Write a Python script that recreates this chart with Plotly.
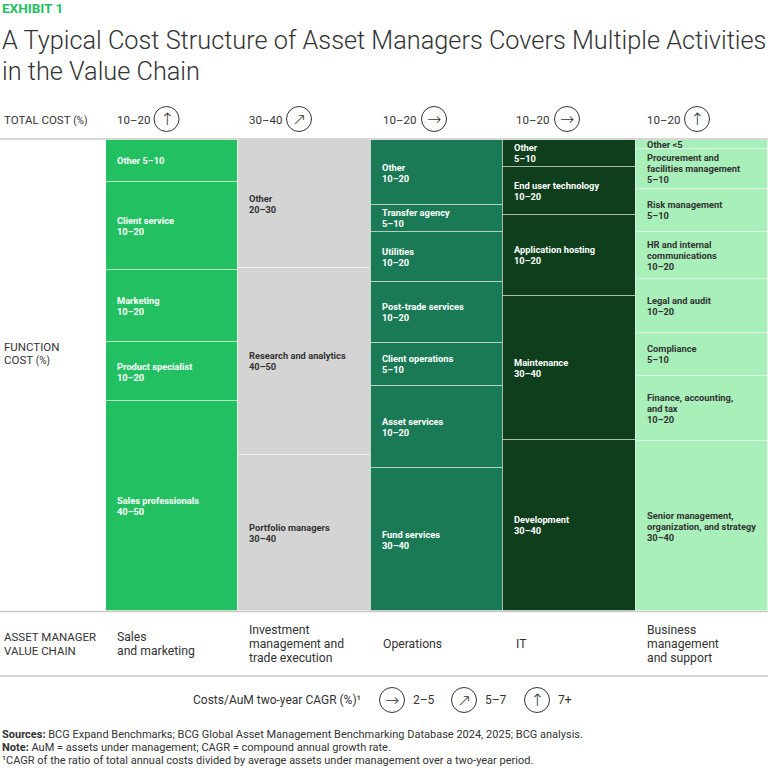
import plotly.graph_objects as go

# ---------------- data ----------------
chain_labels = [["Sales", "and marketing"],
                ["Investment", "management and", "trade execution"],
                ["Operations"], ["IT"],
                ["Business", "management", "and support"]]
total_cost = ["10–20", "30–40", "10–20", "10–20", "10–20"]
cagr_arrow = ["↑", "↗", "→", "→", "↑"]

sales_labels = [["Other 5–10"], ["Client service", "10–20"], ["Marketing", "10–20"],
                ["Product specialist", "10–20"], ["Sales professionals", "40–50"]]
sales_shares = [8.9, 18.6, 15.3, 12.7, 44.5]

invest_labels = [["Other", "20–30"], ["Research and analytics", "40–50"],
                 ["Portfolio managers", "30–40"]]
invest_shares = [27.1, 39.8, 33.1]

ops_labels = [["Other", "10–20"], ["Transfer agency", "5–10"], ["Utilities", "10–20"],
              ["Post-trade services", "10–20"], ["Client operations", "5–10"],
              ["Asset services", "10–20"], ["Fund services", "30–40"]]
ops_shares = [13.8, 5.7, 10.6, 12.9, 9.3, 17.4, 30.3]

it_labels = [["Other", "5–10"], ["End user technology", "10–20"],
             ["Application hosting", "10–20"], ["Maintenance", "30–40"],
             ["Development", "30–40"]]
it_shares = [5.7, 10.2, 17.2, 30.5, 36.4]

bms_labels = [["Other <5"], ["Procurement and", "facilities management", "5–10"],
              ["Risk management", "5–10"], ["HR and internal", "communications", "10–20"],
              ["Legal and audit", "10–20"], ["Compliance", "5–10"],
              ["Finance, accounting,", "and tax", "10–20"],
              ["Senior management,", "organization, and strategy", "30–40"]]
bms_shares = [1.9, 8.5, 9.1, 10.0, 11.4, 9.1, 14.0, 36.0]

legend_arrows = ["→", "↗", "↑"]
legend_ranges = ["2–5", "5–7", "7+"]

all_labels = [sales_labels, invest_labels, ops_labels, it_labels, bms_labels]
all_shares = [sales_shares, invest_shares, ops_shares, it_shares, bms_shares]

# ---------------- style ----------------
col_colors = ["#22C061", "#D4D4D4", "#1B7A56", "#0E3E1C", "#A8EFB9"]
txt_colors = ["#FFFFFF", "#333333", "#FFFFFF", "#FFFFFF", "#333333"]
DARK = "#333333"
FONT = "Roboto"

W, H = 768, 768
L, R, T, B = 106, 768, 140, 611


def pxx(x):
    return (x - L) / (R - L)


def pxy(y):
    return (B - y) / (B - T)


fig = go.Figure()
annotations = []
shapes = []

for i, (labels, shares) in enumerate(zip(all_labels, all_shares)):
    bases = []
    acc = 0
    for s in shares:
        bases.append(acc)
        acc += s
    fig.add_trace(go.Bar(
        x=[i] * len(shares), y=shares, base=bases, width=1,
        marker=dict(color=col_colors[i], line=dict(color="rgba(255,255,255,0.45)", width=1)),
        hoverinfo="skip", showlegend=False))
    for lab, b, s in zip(labels, bases, shares):
        n = len(lab)
        for k, line in enumerate(lab):
            annotations.append(dict(
                x=i - 0.5, xref="x", xshift=9, xanchor="left",
                y=b + s / 2, yref="y", yanchor="middle",
                yshift=-(k - (n - 1) / 2) * 11,
                text="<b>" + line + "</b>", showarrow=False,
                font=dict(family=FONT, size=9.3, color=txt_colors[i])))


def text(x, y, t, size, color=DARK, anchor="left", weight=None, family=FONT):
    d = dict(x=pxx(x), y=pxy(y), xref="paper", yref="paper", xanchor=anchor,
             yanchor="middle", text=t, showarrow=False,
             font=dict(family=family, size=size, color=color))
    if weight:
        d["font"]["weight"] = weight
    annotations.append(d)


def circle(cx, cy, arrow, r=12.5):
    shapes.append(dict(type="circle", xref="paper", yref="paper",
                       x0=pxx(cx - r), x1=pxx(cx + r), y0=pxy(cy + r), y1=pxy(cy - r),
                       line=dict(color=DARK, width=1)))
    text(cx, cy, arrow, 17, anchor="center", family="DejaVu Sans", weight=200)


# title
text(0, 8, "<b>EXHIBIT 1</b>", 13.5, color="#22C061")
text(0, 40, "A Typical Cost Structure of Asset Managers Covers Multiple Activities", 25.3, weight=300)
text(0, 71, "in the Value Chain", 25.3, weight=300)

# header row
text(2, 120, "TOTAL COST <span style='font-size:10px'>(%)</span>", 11.5)
col_left = [115, 247, 381, 514, 645]
circ_x = [166.5, 299, 434, 567, 697]
for i in range(5):
    text(col_left[i], 120, total_cost[i], 11.5)
    circle(circ_x[i], 119, cagr_arrow[i])

# function cost label
text(2, 347, "FUNCTION", 11.5)
text(2, 360, "COST <span style='font-size:10px'>(%)</span>", 11.5)

# value chain
text(2, 637, "ASSET MANAGER", 11.5)
text(2, 651, "VALUE CHAIN", 11.5)
for i, lines in enumerate(chain_labels):
    n = len(lines)
    for k, line in enumerate(lines):
        text(col_left[i], 644 + (k - (n - 1) / 2) * 14, line, 12.2)

# legend
text(363, 700, "Costs/AuM two-year CAGR (%)¹", 12, anchor="right")
leg_cx = [392, 464, 537]
for cx, a, rg in zip(leg_cx, legend_arrows, legend_ranges):
    circle(cx, 700, a)
    text(cx + 19, 700, rg, 12)

# footer
text(0, 734, "<b>Sources:</b> BCG Expand Benchmarks; BCG Global Asset Management Benchmarking Database 2024, 2025; BCG analysis.", 11)
text(0, 747, "<b>Note:</b> AuM = assets under management; CAGR = compound annual growth rate.", 11)
text(0, 760, "¹CAGR of the ratio of total annual costs divided by average assets under management over a two-year period.", 11)

# rules
for y in [139, 611.5, 676]:
    shapes.append(dict(type="line", xref="paper", yref="paper",
                       x0=pxx(0), x1=pxx(768), y0=pxy(y), y1=pxy(y),
                       line=dict(color="#C8C8C8", width=1.5)))

fig.update_layout(
    width=W, height=H,
    margin=dict(l=L, r=W - R, t=T, b=H - B, pad=0),
    paper_bgcolor="white", plot_bgcolor="white",
    barmode="overlay", bargap=0,
    xaxis=dict(range=[-0.5, 4.5], visible=False, fixedrange=True),
    yaxis=dict(range=[100, 0], visible=False, fixedrange=True),
    annotations=annotations, shapes=shapes,
    font=dict(family=FONT, color=DARK),
)

fig.write_html("out.html", config={"displayModeBar": False},
               post_script="document.body.style.margin='0';document.body.style.overflow='hidden';")
